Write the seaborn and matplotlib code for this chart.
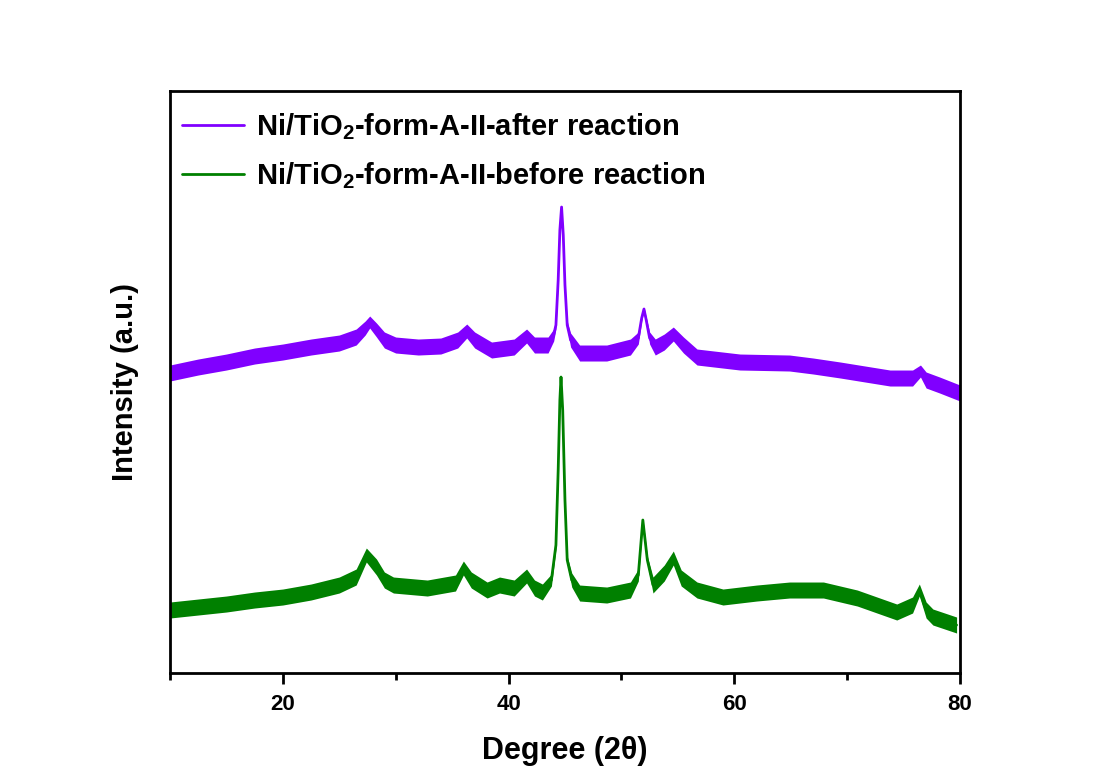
import numpy as np
import pandas as pd
import matplotlib
matplotlib.use("Agg")
import matplotlib.pyplot as plt
import seaborn as sns

# ---- data (intensity in arbitrary units) ----
after_deg = [10.0, 12.5, 15.0, 17.5, 20.0, 22.5, 25.0, 26.5, 27.3, 27.7, 28.3, 29.0,
             30.0, 32.0, 34.0, 35.5, 36.3, 37.0, 38.5, 40.5, 41.6, 42.3, 43.5, 44.0,
             44.2, 44.4, 44.55, 44.7, 44.85, 45.0, 45.2, 45.5, 46.3, 48.7, 50.8, 51.5,
             51.8, 52.0, 52.2, 52.5, 53.0, 53.8, 54.6, 55.5, 56.7, 60.5, 64.9, 67.0,
             69.4, 73.8, 75.8, 76.5, 77.0, 78.2, 80.0]
after_int = [300, 306, 311, 317, 321, 326, 330, 336, 345, 351, 343, 333,
             328, 326, 327, 333, 342, 333, 323, 326, 337, 328, 328, 338,
             348, 393, 443, 466, 438, 388, 348, 333, 320, 320, 326, 335,
             355, 364, 353, 335, 326, 331, 339, 328, 316, 311, 310, 307,
             303, 295, 295, 302, 293, 288, 280]
after_noise = [8, 8, 8, 8, 8, 8, 8, 8, 7, 6, 7, 8,
               8, 8, 8, 8, 7, 8, 8, 8, 7, 8, 8, 6,
               4, 2, 2, 1.5, 2, 2, 4, 7, 8, 8, 8, 6,
               3, 2, 3, 6, 8, 8, 7, 8, 8, 8, 8, 8,
               8, 8, 8, 6, 8, 8, 8]

before_deg = [10.0, 12.5, 15.0, 17.5, 20.0, 22.5, 25.0, 26.5, 27.4, 28.3, 29.0, 29.8,
              32.8, 35.3, 36.0, 36.7, 38.1, 39.2, 40.5, 41.6, 42.3, 43.0, 43.8, 44.2,
              44.4, 44.55, 44.65, 44.8, 45.0, 45.2, 45.6, 46.3, 48.7, 50.8, 51.5, 51.9,
              52.3, 52.8, 53.8, 54.6, 55.3, 56.7, 59.0, 62.0, 64.9, 67.9, 70.9, 74.4,
              75.8, 76.4, 77.0, 77.6, 79.7]
before_int = [63, 66, 69, 73, 76, 81, 88, 96, 118, 106, 93, 88,
              85, 90, 105, 93, 83, 88, 85, 97, 85, 81, 93, 128,
              203, 273, 296, 263, 173, 113, 93, 80, 78, 83, 98, 153,
              113, 88, 100, 115, 95, 83, 76, 80, 83, 83, 75, 61,
              68, 83, 63, 56, 48]
before_noise = [8, 8, 8, 8, 8, 8, 8, 8, 7, 8, 8, 8,
                8, 8, 7, 8, 8, 8, 8, 7, 8, 8, 6, 4,
                2, 2, 1.5, 2, 2, 4, 7, 8, 8, 8, 6, 2,
                4, 8, 8, 7, 8, 8, 8, 8, 8, 8, 8, 8,
                8, 6, 8, 8, 8]

label_after = r"Ni/TiO$_2$-form-A-II-after reaction"
label_before = r"Ni/TiO$_2$-form-A-II-before reaction"
colors = {label_after: "#8000FF", label_before: "#008000"}

df = pd.concat([
    pd.DataFrame({"deg": after_deg, "int": after_int, "series": label_after}),
    pd.DataFrame({"deg": before_deg, "int": before_int, "series": label_before}),
], ignore_index=True)

sns.set_theme(style="white")
plt.rcParams["font.family"] = ["Liberation Sans", "DejaVu Sans"]
plt.rcParams["font.weight"] = "bold"
plt.rcParams["text.color"] = "black"
plt.rcParams["axes.labelcolor"] = "black"
plt.rcParams["xtick.color"] = "black"
plt.rcParams["ytick.color"] = "black"
plt.rcParams["mathtext.fontset"] = "custom"
plt.rcParams["mathtext.rm"] = "Liberation Sans:bold"
plt.rcParams["mathtext.bf"] = "Liberation Sans:bold"
plt.rcParams["mathtext.default"] = "bf"

fig = plt.figure(figsize=(11, 7.76), dpi=100)
ax = fig.add_axes([0.1545, 0.1327, 0.7182, 0.75])

# noise band of each pattern
for d, v, n, lab in [(after_deg, after_int, after_noise, label_after),
                     (before_deg, before_int, before_noise, label_before)]:
    d = np.asarray(d); v = np.asarray(v, float); n = np.asarray(n, float)
    ax.fill_between(d, v - n, v + n, color=colors[lab], lw=0)

sns.lineplot(data=df, x="deg", y="int", hue="series", palette=colors,
             hue_order=[label_after, label_before], linewidth=2, ax=ax,
             sort=False, estimator=None)

ax.set_xlim(10, 80)
ax.set_ylim(0, 582)
ax.set_xticks([20, 40, 60, 80])
ax.set_xticks([10, 30, 50, 70], minor=True)
ax.set_yticks([])
ax.tick_params(axis="x", which="major", direction="out", length=8, width=2,
               labelsize=16, bottom=True, top=False, pad=7)
ax.tick_params(axis="x", which="minor", direction="out", length=5, width=2,
               bottom=True, top=False)
for lbl in ax.get_xticklabels():
    lbl.set_fontweight("bold")
for s in ax.spines.values():
    s.set_linewidth(2)
    s.set_color("black")

ax.set_xlabel("Degree (2θ)", fontsize=22, fontweight="bold", labelpad=15)
ax.set_ylabel("Intensity (a.u.)", fontsize=21, fontweight="bold", labelpad=22)

leg = ax.legend(loc="upper left", frameon=False, fontsize=21, handlelength=2.15,
                handletextpad=0.4, labelspacing=0.62, borderaxespad=0.0,
                bbox_to_anchor=(0.0, 0.985))
for t in leg.get_texts():
    t.set_fontweight("bold")
    t.set_color("black")

fig.savefig("out.png", dpi=100, facecolor="white")
